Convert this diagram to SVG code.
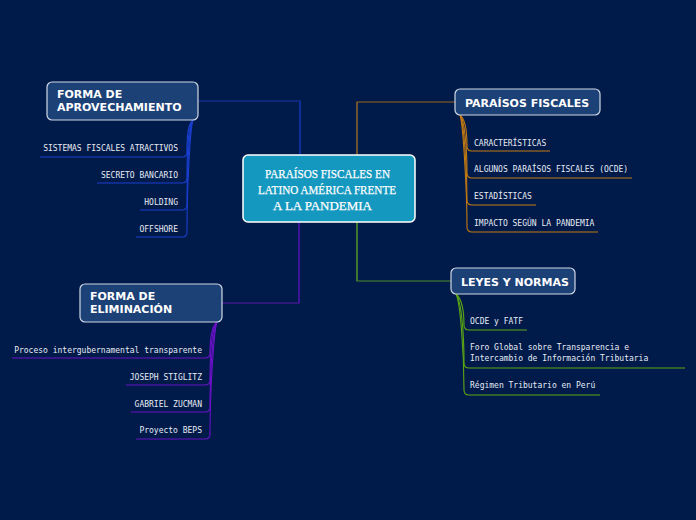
<svg xmlns="http://www.w3.org/2000/svg" width="696" height="520" viewBox="0 0 696 520">
<style>
.bg{fill:#001a4a}
.main{fill:#1598bf;stroke:#ffffff;stroke-width:1.5}
.topic{fill:#1c4177;stroke:#d0d8e4;stroke-width:1.2}
.tt{font-family:"DejaVu Sans",Verdana,sans-serif;font-weight:bold;font-size:11px;fill:#ffffff}
.ct{font-family:"Liberation Serif","DejaVu Serif",serif;font-size:13.5px;fill:#ffffff;stroke:#ffffff;stroke-width:0.25}
.sub{font-family:"DejaVu Sans Mono","Liberation Mono",monospace;font-size:8px;fill:#e8ecf4}
.c{fill:none;stroke-width:1.1}
.m{fill:none;stroke-width:1}
.blue{stroke:#1a3fd0}
.orange{stroke:#c27a12}
.green{stroke:#5ca814}
.purple{stroke:#6a12c8}
</style>
<rect class="bg" x="0" y="0" width="696" height="520"/>
<g id="connectors">
<path class="m" stroke="#1a45e8" d="M300,155 V101"/>
<path class="m" stroke="#1a36a8" d="M300.5,101 H198"/>
<path class="m" stroke="#d88a14" d="M357,155 V102"/>
<path class="m" stroke="#9a6418" d="M356.5,102 H455"/>
<path class="m" stroke="#78d414" d="M357,222 V281"/>
<path class="m" stroke="#4f8a2a" d="M356.5,281 H451"/>
<path class="m" stroke="#7a10e8" d="M299,222 V303"/>
<path class="m" stroke="#5a18a8" d="M299.5,303 H222"/>
<!-- left top children -->
<path class="c blue" d="M193,120 C187,125 187,140 187,152 Q187,157 182,157 H40"/>
<path class="c blue" d="M193,120 C188,126 187,150 187,178 Q187,183 182,183 H97"/>
<path class="c blue" d="M193,120 C189,127 187,170 187,205 Q187,210 182,210 H140"/>
<path class="c blue" d="M193,120 C190,128 187,190 187,232 Q187,237 182,237 H136"/>
<!-- right top children -->
<path class="c orange" d="M460,115 C466,120 467,135 467,146 Q467,151 472,151 H550"/>
<path class="c orange" d="M460,115 C465,121 467,150 467,173 Q467,178 472,178 H632"/>
<path class="c orange" d="M460,115 C464,122 467,170 467,200 Q467,205 472,205 H536"/>
<path class="c orange" d="M460,115 C463,123 467,190 467,227 Q467,232 472,232 H598"/>
<!-- right bottom children -->
<path class="c green" d="M456,294 C462,299 464,312 464,325 Q464,330 469,330 H527"/>
<path class="c green" d="M456,294 C461,300 464,330 464,363 Q464,368 469,368 H685"/>
<path class="c green" d="M456,294 C460,301 464,350 464,390 Q464,395 469,395 H600"/>
<!-- left bottom children -->
<path class="c purple" d="M217,322 C211,327 210,340 210,353 Q210,358 205,358 H12"/>
<path class="c purple" d="M217,322 C212,328 210,350 210,380 Q210,385 205,385 H126"/>
<path class="c purple" d="M217,322 C213,329 210,370 210,407 Q210,412 205,412 H131"/>
<path class="c purple" d="M217,322 C214,330 210,390 210,434 Q210,439 205,439 H136"/>
</g>
<g id="central">
<rect class="main" x="243" y="155" width="172" height="67" rx="5"/>
<text class="ct" x="327.5" y="178" text-anchor="middle" textLength="125" lengthAdjust="spacingAndGlyphs">PARAÍSOS FISCALES EN</text>
<text class="ct" x="327" y="194" text-anchor="middle" textLength="138" lengthAdjust="spacingAndGlyphs">LATINO AMÉRICA FRENTE</text>
<text class="ct" x="322.5" y="210" text-anchor="middle" textLength="99" lengthAdjust="spacingAndGlyphs">A LA PANDEMIA</text>
</g>
<g id="forma-aprovechamiento">
<rect class="topic" x="47" y="82" width="151" height="38" rx="5"/>
<text class="tt" x="57" y="98">FORMA DE</text>
<text class="tt" x="57" y="111">APROVECHAMIENTO</text>
</g>
<g id="sistemas"><text class="sub" x="178" y="151" text-anchor="end">SISTEMAS FISCALES ATRACTIVOS</text></g>
<g id="secreto"><text class="sub" x="178" y="178" text-anchor="end">SECRETO BANCARIO</text></g>
<g id="holding"><text class="sub" x="178" y="205" text-anchor="end">HOLDING</text></g>
<g id="offshore"><text class="sub" x="178" y="232" text-anchor="end">OFFSHORE</text></g>
<g id="paraisos-fiscales">
<rect class="topic" x="455" y="89" width="145" height="26" rx="5"/>
<text class="tt" x="465" y="107">PARAÍSOS FISCALES</text>
</g>
<g id="caracteristicas"><text class="sub" x="474" y="146">CARACTERÍSTICAS</text></g>
<g id="algunos"><text class="sub" x="474" y="172">ALGUNOS PARAÍSOS FISCALES (OCDE)</text></g>
<g id="estadisticas"><text class="sub" x="474" y="199">ESTADÍSTICAS</text></g>
<g id="impacto"><text class="sub" x="474" y="226">IMPACTO SEGÚN LA PANDEMIA</text></g>
<g id="leyes-normas">
<rect class="topic" x="451" y="268" width="124" height="26" rx="5"/>
<text class="tt" x="461" y="286">LEYES Y NORMAS</text>
</g>
<g id="ocde-fatf"><text class="sub" x="470" y="324">OCDE y FATF</text></g>
<g id="foro"><text class="sub" x="470" y="350">Foro Global sobre Transparencia e</text><text class="sub" x="470" y="361">Intercambio de Información Tributaria</text></g>
<g id="regimen"><text class="sub" x="470" y="388">Régimen Tributario en Perú</text></g>
<g id="forma-eliminacion">
<rect class="topic" x="80" y="284" width="142" height="38" rx="5"/>
<text class="tt" x="90" y="300">FORMA DE</text>
<text class="tt" x="90" y="313">ELIMINACIÓN</text>
</g>
<g id="proceso"><text class="sub" x="202" y="353" text-anchor="end">Proceso intergubernamental transparente</text></g>
<g id="stiglitz"><text class="sub" x="202" y="380" text-anchor="end">JOSEPH STIGLITZ</text></g>
<g id="zucman"><text class="sub" x="202" y="407" text-anchor="end">GABRIEL ZUCMAN</text></g>
<g id="beps"><text class="sub" x="202" y="433" text-anchor="end">Proyecto BEPS</text></g>
</svg>
